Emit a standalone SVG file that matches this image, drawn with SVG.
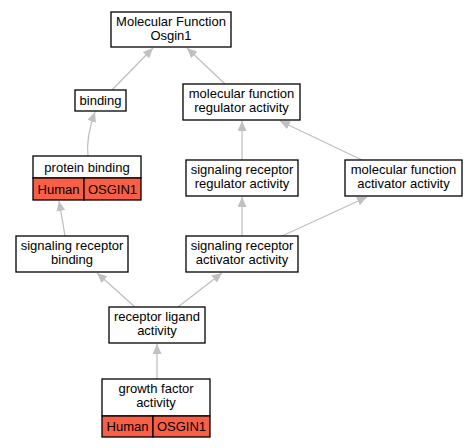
<svg xmlns="http://www.w3.org/2000/svg" width="476" height="448" viewBox="0 0 476 448">
<defs>
<style>
.box{fill:#fff;stroke:#000;stroke-width:1.3}
.cell{fill:#f95f46;stroke:#000;stroke-width:1.3}
text{font-family:"Liberation Sans",Arial,sans-serif;font-size:13px;text-anchor:middle;fill:#000}
.edge{fill:none;stroke:#c0c0c0;stroke-width:1.3;marker-end:url(#ah)}
</style>
<marker id="ah" markerUnits="userSpaceOnUse" markerWidth="11" markerHeight="9" refX="10" refY="4.5" orient="auto">
<path d="M0,0 L10,4.5 L0,9 z" fill="#c0c0c0"/>
</marker>
</defs>
<rect width="476" height="448" fill="#fff"/>
<g id="edges">
<line class="edge" x1="112" y1="90" x2="153" y2="48"/>
<line class="edge" x1="225" y1="84" x2="187" y2="48"/>
<path class="edge" d="M88,156 C86,140 90,126 95,112"/>
<line class="edge" x1="242" y1="160" x2="242" y2="121"/>
<line class="edge" x1="362" y1="160" x2="280" y2="121"/>
<path class="edge" d="M65,236 C63,224 61,212 59,201"/>
<line class="edge" x1="242" y1="236" x2="242" y2="197"/>
<line class="edge" x1="282" y1="236" x2="367" y2="197"/>
<line class="edge" x1="135" y1="307" x2="97" y2="273"/>
<line class="edge" x1="178" y1="307" x2="222" y2="273"/>
<line class="edge" x1="157" y1="379" x2="157" y2="344"/>
</g>
<g id="mf_osgin1">
<rect class="box" x="111" y="12" width="120" height="35"/>
<text x="171" y="26">Molecular Function</text>
<text x="171" y="40">Osgin1</text>
</g>
<g id="binding">
<rect class="box" x="75" y="90" width="51" height="21"/>
<text x="100.5" y="105">binding</text>
</g>
<g id="mf_regulator">
<rect class="box" x="183" y="84" width="117" height="36"/>
<text x="241.5" y="98">molecular function</text>
<text x="241.5" y="112">regulator activity</text>
</g>
<g id="protein_binding">
<rect class="box" x="33" y="156" width="108" height="22"/>
<text x="87" y="172">protein binding</text>
<rect class="cell" x="33" y="178" width="51" height="22"/>
<text x="58.5" y="194">Human</text>
<rect class="cell" x="84" y="178" width="57" height="22"/>
<text x="112.5" y="194">OSGIN1</text>
</g>
<g id="sr_regulator">
<rect class="box" x="186" y="160" width="112" height="36"/>
<text x="242" y="174">signaling receptor</text>
<text x="242" y="188">regulator activity</text>
</g>
<g id="mf_activator">
<rect class="box" x="345" y="160" width="117" height="36"/>
<text x="403.5" y="174">molecular function</text>
<text x="403.5" y="188">activator activity</text>
</g>
<g id="sr_binding">
<rect class="box" x="16" y="236" width="112" height="36"/>
<text x="72" y="250">signaling receptor</text>
<text x="72" y="264">binding</text>
</g>
<g id="sr_activator">
<rect class="box" x="186" y="236" width="112" height="36"/>
<text x="242" y="250">signaling receptor</text>
<text x="242" y="264">activator activity</text>
</g>
<g id="receptor_ligand">
<rect class="box" x="109" y="307" width="96" height="36"/>
<text x="157" y="321">receptor ligand</text>
<text x="157" y="335">activity</text>
</g>
<g id="growth_factor">
<rect class="box" x="102" y="379" width="108" height="37"/>
<text x="156" y="393">growth factor</text>
<text x="156" y="407">activity</text>
<rect class="cell" x="102" y="416" width="51" height="21"/>
<text x="127.5" y="431">Human</text>
<rect class="cell" x="153" y="416" width="57" height="21"/>
<text x="181.5" y="431">OSGIN1</text>
</g>
</svg>
